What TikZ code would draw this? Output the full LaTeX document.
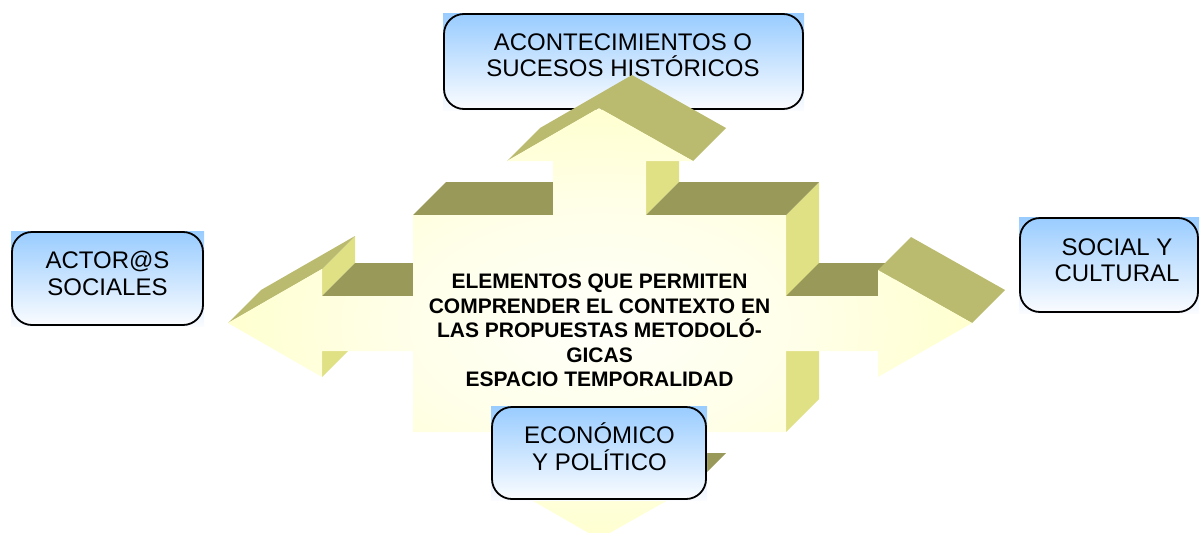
\documentclass[tikz,border=0pt]{standalone}
\usepackage{fontspec}
\setmainfont{Liberation Sans}
\definecolor{darkface}{HTML}{99995A}
\definecolor{bevelface}{HTML}{BBBB70}
\definecolor{sideface}{HTML}{E0E084}
\definecolor{ctip}{HTML}{FFFF99}
\definecolor{cmid}{HTML}{FFFFE8}
\definecolor{ccen}{HTML}{FFFFFA}
\definecolor{btop}{HTML}{99CCFF}
\definecolor{bbot}{HTML}{FAFCFF}
\pgfdeclareradialshading{crossshade}{\pgfpointorigin}{color(0bp)=(ccen); color(14bp)=(cmid); color(50bp)=(ctip)}
\begin{document}
\begin{tikzpicture}[x=1pt,y=-1pt,
  box/.style={draw=black, line width=1.8pt, rounded corners=20pt, top color=btop, bottom color=bbot, inner sep=0pt},
  boxbg/.style={top color=btop, bottom color=bbot},
  boxtext/.style={font=\fontsize{24}{26.5}\selectfont, align=center, inner sep=0pt, text=black},
  ctext/.style={font=\fontsize{21}{24.5}\selectfont\bfseries, align=center, inner sep=0pt, text=black},
  dface/.style={fill=darkface},
  bface/.style={fill=bevelface},
  sface/.style={fill=sideface},
  front/.style={shading=crossshade}]
\useasboundingbox (0,0) rectangle (1200,533);
% top box (behind the cross)
\path[boxbg] (443,13) rectangle (804,110);
\node[box, minimum width=359pt, minimum height=95pt] (topbox) at (623.5,61.5) {};
\node[boxtext, font=\fontsize{24}{25.5}\selectfont] (toptext) at (623,55) {ACONTECIMIENTOS O\\SUCESOS HISTÓRICOS};
% left box
\path[boxbg] (11,231) rectangle (204,326);
\node[box, minimum width=191pt, minimum height=93pt] (leftbox) at (107.5,278.5) {};
\node[boxtext] (lefttext) at (107.5,273.5) {ACTOR@S\\SOCIALES};
% right box
\path[boxbg] (1019,217) rectangle (1199,313);
\node[box, minimum width=178pt, minimum height=94pt] (rightbox) at (1109,265) {};
\node[boxtext] (righttext) at (1117,260) {SOCIAL Y\\CULTURAL};
% side faces
\path[sface] (646,161)--(679,128)--(679,182)--(646,215)--cycle;
\path[sface] (786,215)--(819,182)--(819,399)--(786,432)--cycle;
\path[sface] (322,269)--(355,236)--(355,263)--(322,296)--cycle;
\path[sface] (322,351)--(355,318)--(355,344)--(322,377)--cycle;
\path[sface] (646,432)--(679,399)--(679,453)--(646,486)--cycle;
% top faces
\path[dface] (413,215)--(446,182)--(586,182)--(553,215)--cycle;
\path[dface] (646,215)--(679,182)--(819,182)--(786,215)--cycle;
\path[dface] (322,296)--(355,263)--(446,263)--(413,296)--cycle;
\path[dface] (786,296)--(819,263)--(911,263)--(878,296)--cycle;
\path[dface] (646,486)--(679,453)--(726,453)--(693,486)--cycle;
\path[dface] (507,486)--(540,453)--(586,453)--(553,486)--cycle;
% bevels of the arrowheads
\path[bface] (507,161)--(599,108)--(693,161)--(726,128)--(632,75)--(540,128)--cycle;
\path[bface] (228,323)--(322,269)--(355,236)--(261,290)--cycle;
\path[bface] (878,270)--(911,237)--(1005,290)--(972,323)--cycle;
% front face
\path[front] (599,108) -- (693,161) -- (646,161) -- (646,215) -- (786,215) -- (786,296) -- (878,296) -- (878,270) -- (972,323) -- (878,377) -- (878,351) -- (786,351) -- (786,432) -- (646,432) -- (646,486) -- (693,486) -- (599,539) -- (507,486) -- (553,486) -- (553,432) -- (413,432) -- (413,351) -- (322,351) -- (322,377) -- (228,323) -- (322,269) -- (322,296) -- (413,296) -- (413,215) -- (553,215) -- (553,161) -- (507,161) -- cycle;
\node[ctext] (centertext) at (599.5,330.5) {ELEMENTOS QUE PERMITEN\\COMPRENDER EL CONTEXTO EN\\LAS PROPUESTAS METODOLÓ-\\GICAS\\ESPACIO TEMPORALIDAD};
% bottom box (in front of the cross)
\path[boxbg] (491,406) rectangle (707,500);
\node[box, minimum width=214pt, minimum height=92pt] (botbox) at (599,453) {};
\node[boxtext] (bottext) at (599.5,446.5) {ECONÓMICO\\Y POLÍTICO};
\end{tikzpicture}
\end{document}
